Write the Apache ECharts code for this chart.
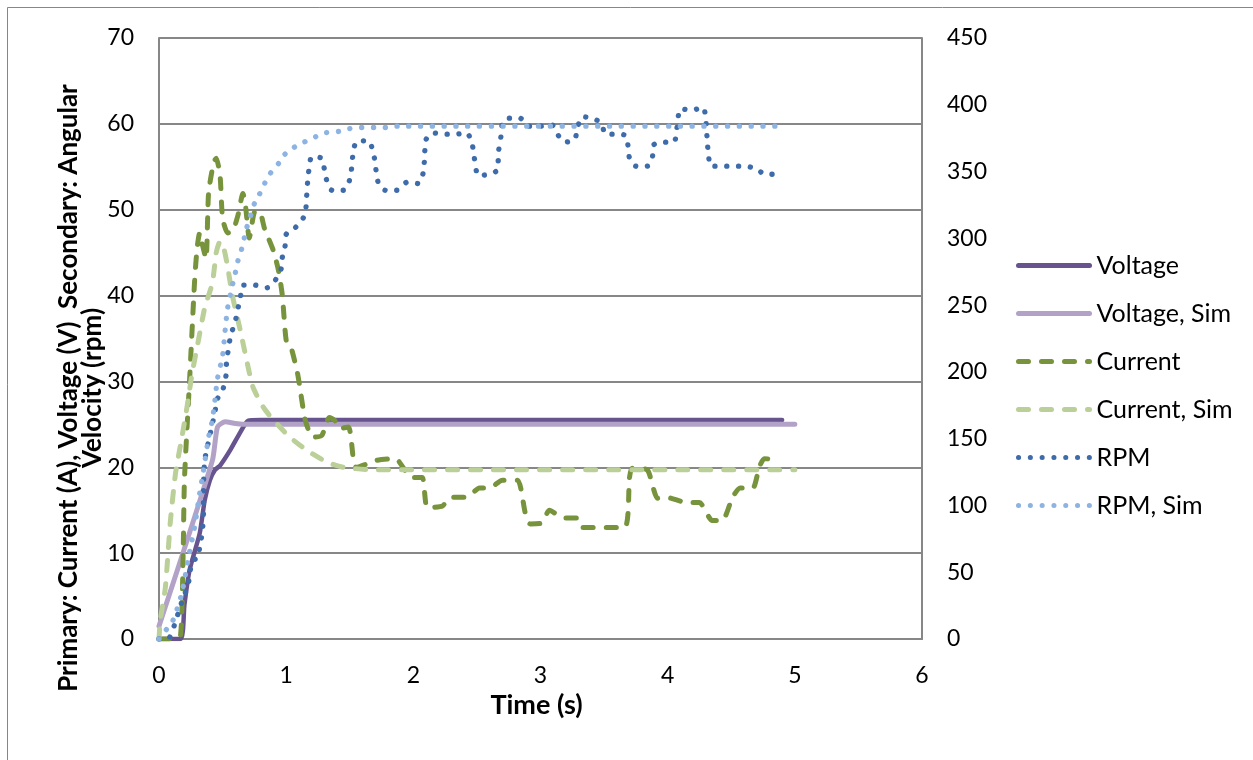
<!DOCTYPE html>
<html>
<head>
<meta charset="utf-8">
<script src="https://cdn.jsdelivr.net/npm/echarts@6/dist/echarts.min.js"></script>
<style>
html,body{margin:0;padding:0;background:#ffffff;}
#chart{width:1253px;height:760px;}
</style>
</head>
<body>
<div id="chart"></div>
<script>
// ---- data (time in s, value) ----
const seriesNames = ['Voltage', 'Voltage, Sim', 'Current', 'Current, Sim', 'RPM', 'RPM, Sim'];

const voltage = [[0,0],[0.17,0],[0.2,4],[0.24,8],[0.32,12.3],[0.36,16.2],[0.4,18.5],[0.44,19.7],[0.48,20.2],[0.56,22],[0.64,24.1],[0.7,25.4],[0.8,25.5],[4.9,25.5]];

const voltageSim = [[0,1.5],[0.42,20.8],[0.46,24.7],[0.52,25.3],[0.6,25.1],[0.7,25],[5.0,25]];

const current = [[0,0],[0.12,0],[0.17,0.5],[0.19,10],[0.2,18.5],[0.24,30],[0.28,41.7],[0.3,45.6],[0.32,47.3],[0.34,46],[0.37,44.3],[0.39,52],[0.43,55.5],[0.45,56],[0.48,54],[0.5,49],[0.54,47.3],[0.58,47.5],[0.62,49.3],[0.66,51.9],[0.68,50.5],[0.71,46.7],[0.75,49.7],[0.79,49.8],[0.83,47.8],[0.9,45.2],[0.94,42.9],[0.97,40],[1.0,34.8],[1.03,34.4],[1.09,30.9],[1.15,25.5],[1.21,23.5],[1.28,23.7],[1.34,25.8],[1.38,25.5],[1.42,24.5],[1.49,24.7],[1.53,20.8],[1.55,20],[1.71,20.8],[1.84,21],[1.88,20.8],[1.96,19.1],[1.99,18.8],[2.07,18.8],[2.11,15.3],[2.23,15.5],[2.29,16.5],[2.42,16.5],[2.52,17.6],[2.6,17.6],[2.7,18.5],[2.82,18.5],[2.88,14.7],[2.92,13.4],[3.01,13.5],[3.07,15],[3.18,14.1],[3.29,14.1],[3.33,13],[3.66,13],[3.7,18.8],[3.72,19.9],[3.84,19.7],[3.92,16.4],[3.99,16.5],[4.15,15.9],[4.25,15.9],[4.35,13.8],[4.43,13.8],[4.51,16.5],[4.57,17.6],[4.67,17.6],[4.72,20],[4.76,21],[4.86,20.9]];

const currentSim = [[0,0],[0.01,2.2],[0.05,6],[0.09,13.8],[0.13,19.3],[0.18,23.5],[0.22,27],[0.26,30.9],[0.31,34.8],[0.36,38.6],[0.42,41.5],[0.45,45],[0.48,46.3],[0.51,45.5],[0.54,43.3],[0.58,39.8],[0.64,35.9],[0.69,32.4],[0.74,29.3],[0.82,27],[0.9,25.5],[1.03,23.5],[1.16,22],[1.32,20.6],[1.45,20],[1.7,19.7],[5.0,19.7]];

const rpm = [[0,0],[0.07,0],[0.15,19],[0.19,31],[0.23,40],[0.24,49],[0.27,59],[0.31,61],[0.32,70],[0.34,79],[0.35,96],[0.35,114],[0.36,134],[0.42,161],[0.44,170],[0.46,180],[0.5,186],[0.53,200],[0.53,209],[0.55,218],[0.56,226],[0.6,238],[0.62,247],[0.64,256],[0.66,265],[0.75,265],[0.85,263],[0.91,268],[0.96,277],[0.97,286],[0.99,293],[1.0,303],[1.05,306],[1.11,312],[1.15,318],[1.16,330],[1.17,344],[1.18,352],[1.2,361],[1.28,360],[1.3,352],[1.32,343],[1.36,336],[1.45,336],[1.49,341],[1.51,349],[1.52,358],[1.53,367],[1.56,373],[1.65,373],[1.68,366],[1.7,357],[1.71,348],[1.73,340],[1.78,336],[1.87,336],[1.95,342],[2.04,341],[2.08,350],[2.09,365],[2.1,374],[2.15,379],[2.24,378],[2.33,378],[2.42,379],[2.46,372],[2.48,360],[2.51,347],[2.6,348],[2.66,351],[2.67,365],[2.69,377],[2.7,386],[2.74,390],[2.84,390],[2.9,384],[3.0,384],[3.09,385],[3.14,377],[3.19,372],[3.27,374],[3.29,383],[3.33,391],[3.41,390],[3.48,386],[3.51,378],[3.6,378],[3.67,377],[3.69,368],[3.7,360],[3.75,354],[3.84,354],[3.88,361],[3.89,370],[3.95,372],[4.05,372],[4.07,380],[4.08,389],[4.1,397],[4.19,396],[4.28,398],[4.3,389],[4.31,375],[4.32,363],[4.34,354],[4.43,354],[4.52,354],[4.61,354],[4.7,352],[4.76,348],[4.86,348]];

const rpmSim = [[0,0],[0.11,14],[0.17,31],[0.19,39],[0.24,65],[0.28,84],[0.32,109],[0.35,126],[0.39,151],[0.42,164],[0.44,179],[0.46,195],[0.5,212],[0.52,231],[0.54,248],[0.58,266],[0.6,274],[0.62,283],[0.65,292],[0.69,308],[0.72,317],[0.75,326],[0.79,333],[0.83,341],[0.87,348],[0.94,356],[0.99,363],[1.06,368],[1.14,372],[1.23,376],[1.31,379],[1.41,380],[1.49,382],[1.59,383],[1.78,383],[1.87,384],[4.93,384]];

const xAxisRange = [0, 6, 1];
const leftAxisRange = [0, 70, 10];
const rightAxisRange = [0, 450, 50];
const axisTitleX = 'Time (s)';
const axisTitleY = 'Primary: Current (A), Voltage (V)  Secondary: Angular\nVelocity (rpm)';

// ---- chart ----
const FONT = 'Lato';
const GRID_COLOR = '#878787';
const chart = echarts.init(document.getElementById('chart'), null, {renderer: 'canvas'});

function lineSeries(name, data, yIdx, color, width, type, smooth) {
  return {
    name: name,
    type: 'line',
    data: data,
    yAxisIndex: yIdx,
    symbol: 'none',
    smooth: smooth,
    color: color,
    lineStyle: {color: color, width: width, type: type, cap: 'round', join: 'round'},
    emphasis: {disabled: true},
    animation: false
  };
}

const option = {
  animation: false,
  backgroundColor: '#ffffff',
  grid: {left: 159, right: 331, top: 38, bottom: 121, containLabel: false},
  legend: {
    orient: 'vertical',
    left: 1011,
    top: 248,
    padding: 5,
    itemWidth: 71,
    itemHeight: 22,
    itemGap: 23,
    itemStyle: {opacity: 0},
    lineStyle: {width: 5, cap: 'round'},
    textStyle: {fontFamily: FONT, fontSize: 25, lineHeight: 22, color: '#000', padding: [0, 0, 0, 2]},
    data: seriesNames
  },
  xAxis: {
    type: 'value',
    min: xAxisRange[0], max: xAxisRange[1], interval: xAxisRange[2],
    name: axisTitleX,
    nameLocation: 'middle',
    nameGap: 50,
    nameTextStyle: {fontFamily: FONT, fontSize: 27, fontWeight: 'bold', color: '#000', padding: [0, 8, 0, 0]},
    axisLine: {show: true, onZero: false, lineStyle: {color: GRID_COLOR, width: 2}},
    axisTick: {show: false},
    axisLabel: {margin: 25, fontFamily: FONT, fontSize: 23, color: '#000'},
    splitLine: {show: false}
  },
  yAxis: [
    {
      type: 'value',
      min: leftAxisRange[0], max: leftAxisRange[1], interval: leftAxisRange[2],
      position: 'left',
      axisLine: {show: true, lineStyle: {color: GRID_COLOR, width: 2}},
      axisTick: {show: false},
      axisLabel: {margin: 25, fontFamily: FONT, fontSize: 23, color: '#000'},
      splitLine: {show: true, lineStyle: {color: GRID_COLOR, width: 2}}
    },
    {
      type: 'value',
      min: rightAxisRange[0], max: rightAxisRange[1], interval: rightAxisRange[2],
      position: 'right',
      axisLine: {show: true, lineStyle: {color: GRID_COLOR, width: 2}},
      axisTick: {show: false},
      axisLabel: {margin: 25, fontFamily: FONT, fontSize: 23, color: '#000'},
      splitLine: {show: false}
    }
  ],
  graphic: [
    {
      type: 'rect', silent: true, z: -1,
      shape: {x: 7.5, y: 7.5, width: 1300, height: 800},
      style: {fill: 'none', stroke: '#878787', lineWidth: 1}
    },
    {
      type: 'text', silent: true,
      x: 81, y: 388, rotation: Math.PI / 2,
      style: {text: axisTitleY, x: 0, y: 0, align: 'center', verticalAlign: 'middle',
              font: 'bold 26px ' + FONT, lineHeight: 24, fill: '#000'}
    }
  ],
  series: [
    lineSeries(seriesNames[0], voltage, 0, '#67548F', 4.5, 'solid', 0.2),
    lineSeries(seriesNames[1], voltageSim, 0, '#B3A2C7', 5, 'solid', 0.2),
    lineSeries(seriesNames[2], current, 0, '#77933C', 5, [10, 13], 0.2),
    lineSeries(seriesNames[3], currentSim, 0, '#BBCF98', 5, [10, 13], 0.2),
    lineSeries(seriesNames[4], rpm, 1, '#3E6BAA', 5.3, [0.1, 11.7], 0.2),
    lineSeries(seriesNames[5], rpmSim, 1, '#8DB3E2', 5.3, [0.1, 11.7], 0.2)
  ]
};
chart.setOption(option);
</script>
</body>
</html>
